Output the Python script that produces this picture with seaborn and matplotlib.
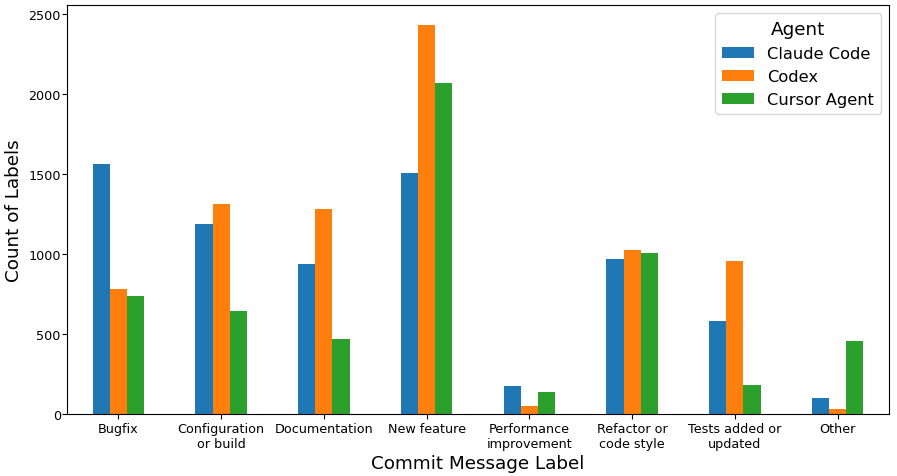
import pandas as pd
import matplotlib
matplotlib.use("Agg")
import matplotlib.pyplot as plt
import seaborn as sns

labels = ["Bugfix", "Configuration\nor build", "Documentation", "New feature",
          "Performance\nimprovement", "Refactor or\ncode style", "Tests added or\nupdated", "Other"]
agents = ["Claude Code", "Codex", "Cursor Agent"]
claude_code = [1562, 1187, 935, 1506, 173, 969, 583, 102]
codex = [781, 1310, 1279, 2431, 48, 1025, 956, 31]
cursor_agent = [735, 642, 469, 2069, 140, 1006, 181, 454]

rows = []
for agent, vals in zip(agents, [claude_code, codex, cursor_agent]):
    for lab, v in zip(labels, vals):
        rows.append({"label": lab, "agent": agent, "count": v})
df = pd.DataFrame(rows)

fig, ax = plt.subplots(figsize=(8.97, 4.77), dpi=100)
sns.barplot(data=df, x="label", y="count", hue="agent", order=labels, hue_order=agents,
            palette=["#1f77b4", "#ff7f0e", "#2ca02c"], width=0.5, linewidth=0,
            saturation=1, ax=ax)

ax.set_xlabel("Commit Message Label", fontsize=13.2, labelpad=3)
ax.set_ylabel("Count of Labels", fontsize=13.2)
ax.tick_params(axis="both", labelsize=9.2)
ax.tick_params(axis="x", pad=2)
ax.tick_params(axis="y", pad=1)
ax.set_xlim(-0.5, len(labels) - 0.5)
ax.legend(title="Agent", fontsize=11.7, title_fontsize=13.2, loc="upper right")

plt.subplots_adjust(left=0.0747, right=0.991, top=0.987, bottom=0.13)
plt.savefig("out.png")
